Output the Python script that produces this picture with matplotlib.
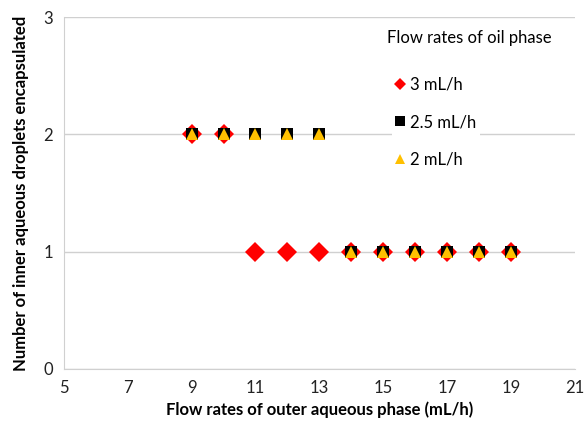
import matplotlib.pyplot as plt

plt.rcParams['font.family'] = ['Lato', 'DejaVu Sans']

# flow rates of outer aqueous phase (mL/h)
x_vals = [9, 10, 11, 12, 13, 14, 15, 16, 17, 18, 19]
# number of inner droplets encapsulated, per oil phase flow rate
n_3 = [2, 2, 1, 1, 1, 1, 1, 1, 1, 1, 1]
n_25 = [2, 2, 2, 2, 2, 1, 1, 1, 1, 1, 1]
n_2 = [2, 2, 2, 2, 2, 1, 1, 1, 1, 1, 1]
labels = ['3 mL/h', '2.5 mL/h', '2 mL/h']
legend_title = 'Flow rates of oil phase'

fig = plt.figure(figsize=(5.86, 4.25), dpi=100)
ax = fig.add_axes([0.109, 0.132, 0.872, 0.828])

ax.plot(x_vals, n_3, 'D', color='#FF0000', ms=10, mew=0, label=labels[0], zorder=3)
ax.plot(x_vals, n_25, 's', color='black', ms=9, mew=0, label=labels[1], zorder=4)
ax.plot(x_vals, n_2, '^', color='#FFC000', ms=9, mew=0, label=labels[2], zorder=5)

ax.set_xlim(5, 21)
ax.set_ylim(0, 3)
ax.set_xticks(range(5, 22, 2))
ax.set_yticks([0, 1, 2, 3])
ax.yaxis.grid(True, color='#D0D0D0', lw=1)
ax.set_axisbelow(True)
ax.tick_params(length=0, labelsize=12, colors='#222222', pad=8)
for s in ['top', 'right']:
    ax.spines[s].set_visible(False)
for s in ['left', 'bottom']:
    ax.spines[s].set_color('#D0D0D0')

ax.set_xlabel('Flow rates of outer aqueous phase (mL/h)', fontsize=12, fontweight='bold', labelpad=4)
ax.set_ylabel('Number of inner aqueous droplets encapsulated', fontsize=12, fontweight='bold', labelpad=10)

ax.text(0.633, 0.94, legend_title, transform=ax.transAxes, fontsize=12, va='center', ha='left')
leg = ax.legend(loc='upper left', bbox_to_anchor=(0.635, 0.85),
                frameon=True, framealpha=1, edgecolor='none', fontsize=12,
                labelspacing=1.3, handlelength=0.6, handletextpad=0.3, borderpad=0.2,
                borderaxespad=0.2)
for h, m in zip(leg.legend_handles, [6, 6.5, 7.5]):
    h.set_markersize(m)

fig.savefig('out.png', dpi=100)
